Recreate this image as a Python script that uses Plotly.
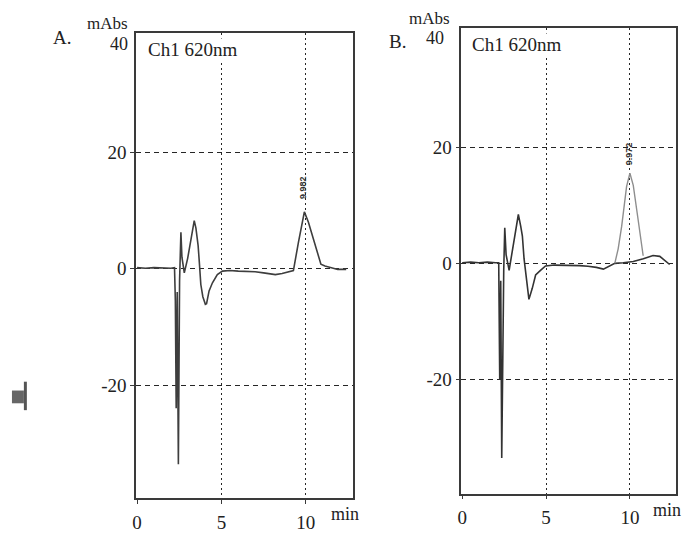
import plotly.graph_objects as go

# ---------------- data ----------------
# Panel A: chromatogram, Ch1 620 nm
time_a = [0.0, 0.5, 1.0, 1.5, 2.0, 2.22, 2.27, 2.32, 2.38, 2.45, 2.52, 2.6, 2.66, 2.8,
          2.9, 3.0, 3.2, 3.39, 3.49, 3.58, 3.62, 3.69, 3.78, 3.9, 4.05, 4.12, 4.27, 4.47,
          4.76, 5.06, 5.5, 6.0, 6.5, 7.0, 7.5, 8.0, 8.2, 8.6, 9.0, 9.27, 9.57, 9.92,
          10.16, 10.55, 10.9, 11.14, 11.53, 11.9, 12.4]
abs_a = [0.2, 0.1, 0.2, 0.1, 0.1, 0.2, -5.5, -24.0, -4.0, -33.6, -2.0, 6.3, 2.0, -0.7,
         0.5, 1.8, 5.1, 8.3, 7.0, 5.2, 4.0, 1.2, -2.7, -4.8, -6.1, -6.0, -3.8, -2.4,
         -1.0, -0.4, -0.3, -0.4, -0.4, -0.5, -0.7, -0.9, -1.0, -0.8, -0.5, -0.3, 4.6, 9.8,
         8.0, 4.0, 0.8, 0.5, 0.2, -0.1, -0.1]
peak_label_a = "9.982"

# Panel B: main chromatogram
time_b = [0.0, 0.5, 1.0, 1.5, 2.0, 2.18, 2.24, 2.3, 2.36, 2.42, 2.48, 2.54, 2.62, 2.8,
          3.0, 3.2, 3.35, 3.49, 3.59, 3.69, 3.85, 3.98, 4.18, 4.38, 4.67, 4.97, 5.5,
          6.0, 6.5, 7.0, 7.5, 8.0, 8.42, 8.8, 9.1, 9.6, 10.2, 10.8, 11.38, 11.78, 12.37]
abs_b = [0.1, 0.2, 0.1, 0.2, 0.1, 0.1, -20.0, -3.0, -33.5, -8.0, -1.0, 6.1, 1.5, -1.2,
         2.2, 5.8, 8.4, 6.4, 4.7, 0.8, -3.7, -6.2, -4.3, -2.0, -1.2, -0.45, -0.3,
         -0.3, -0.3, -0.4, -0.5, -0.7, -1.0, -0.5, 0.0, 0.1, 0.3, 0.8, 1.35, 1.2, -0.2]
# Panel B: peak segment (lighter trace)
peak_time_b = [9.1, 9.3, 9.51, 9.8, 10.0, 10.2, 10.49, 10.79]
peak_abs_b = [0.0, 2.5, 6.4, 13.2, 15.5, 13.4, 7.5, 1.3]
peak_label_b = "9.972"

x_ticks = [0, 5, 10]
y_ticks = [-20, 0, 20]
y_top_label = "40"
channel_label = "Ch1 620nm"
y_unit = "mAbs"
x_unit = "min"
panel_labels = ["A.", "B."]

# ---------------- figure ----------------
W, H = 684, 533
def px(x):
    return x / W
def py(y):
    return 1 - y / H

FONT = "Liberation Serif, Times New Roman, serif"
TXT = "#222222"
GRID = "#262626"

fig = go.Figure()
fig.add_trace(go.Scatter(x=time_a, y=abs_a, mode="lines",
                         line=dict(color="#3e3e3e", width=1.6),
                         xaxis="x", yaxis="y", showlegend=False))
fig.add_trace(go.Scatter(x=time_b, y=abs_b, mode="lines",
                         line=dict(color="#333333", width=1.6),
                         xaxis="x2", yaxis="y2", showlegend=False))
fig.add_trace(go.Scatter(x=peak_time_b, y=peak_abs_b, mode="lines",
                         line=dict(color="#8e8e8e", width=1.4),
                         xaxis="x2", yaxis="y2", showlegend=False))

def xaxis_cfg(domain, rng, anchor):
    return dict(domain=domain, range=rng, anchor=anchor,
                tickvals=x_ticks, ticktext=[str(v) for v in x_ticks],
                showline=True, mirror=True, linecolor="#3a3a3a", linewidth=1.6,
                ticks="outside", ticklen=4, tickcolor="#3a3a3a",
                showgrid=True, gridcolor=GRID, gridwidth=1.4, griddash="2px,3px",
                zeroline=False, tickfont=dict(family=FONT, size=19, color=TXT),
                ticklabelstandoff=2)

def yaxis_cfg(domain, rng, anchor):
    return dict(domain=domain, range=rng, anchor=anchor,
                tickvals=y_ticks, ticktext=[str(v) for v in y_ticks],
                showline=True, mirror=True, linecolor="#3a3a3a", linewidth=1.6,
                ticks="outside", ticklen=4, tickcolor="#3a3a3a",
                showgrid=True, gridcolor=GRID, gridwidth=1.3, griddash="5px,4px",
                zeroline=False, tickfont=dict(family=FONT, size=19, color=TXT))

fig.update_layout(
    width=W, height=H,
    margin=dict(l=0, r=0, t=0, b=0),
    paper_bgcolor="white", plot_bgcolor="white",
    xaxis=xaxis_cfg([px(133), px(351)], [-0.05, 12.8], "y"),
    yaxis=yaxis_cfg([py(508), py(34)], [-39.5, 40.5], "x"),
    xaxis2=xaxis_cfg([px(460), px(676)], [-0.05, 12.75], "y2"),
    yaxis2=yaxis_cfg([py(503), py(29)], [-39.6, 40.4], "x2"),
)

ann = []
def paper_text(text, x, y, size=19, xanchor="center", bg=None):
    d = dict(text=text, x=px(x), y=py(y), xref="paper", yref="paper",
             showarrow=False, xanchor=xanchor, yanchor="middle",
             font=dict(family=FONT, size=size, color=TXT))
    if bg:
        d.update(bgcolor=bg, borderpad=0)
    ann.append(d)

# Panel A texts
paper_text(panel_labels[0], 58, 38)
paper_text(y_unit, 104, 24, size=17)
paper_text(y_top_label, 127, 45, size=18, xanchor="right")
paper_text(channel_label, 190, 50, bg="white")
paper_text(x_unit, 343, 524, size=18)
# Panel B texts
paper_text(panel_labels[1], 396, 42)
paper_text(y_unit, 428, 19, size=17)
paper_text(y_top_label, 445, 39, size=18, xanchor="right")
paper_text(channel_label, 516, 45, bg="white")
paper_text(x_unit, 667, 520, size=18)

# peak retention labels (rotated), placed above each peak maximum
ia = abs_a.index(max(abs_a))
ann.append(dict(text="<b>" + peak_label_a + "</b>", x=time_a[ia] - 0.05, y=abs_a[ia] + 4.2,
                xref="x", yref="y", showarrow=False, textangle=-90,
                font=dict(family="Liberation Sans", size=9, color="#333333")))
ib = peak_abs_b.index(max(peak_abs_b))
ann.append(dict(text="<b>" + peak_label_b + "</b>", x=peak_time_b[ib], y=peak_abs_b[ib] + 3.4,
                xref="x2", yref="y2", showarrow=False, textangle=-90,
                font=dict(family="Liberation Sans", size=9, color="#333333")))
fig.update_layout(annotations=ann)

# small grey mark at the left edge of the page
fig.add_shape(type="rect", xref="paper", yref="paper",
              x0=px(8), x1=px(20), y0=py(411), y1=py(398),
              fillcolor="#666666", line=dict(width=0))
fig.add_shape(type="rect", xref="paper", yref="paper",
              x0=px(20), x1=px(23), y0=py(418), y1=py(389),
              fillcolor="#555555", line=dict(width=0))

fig.write_html("out.html")
